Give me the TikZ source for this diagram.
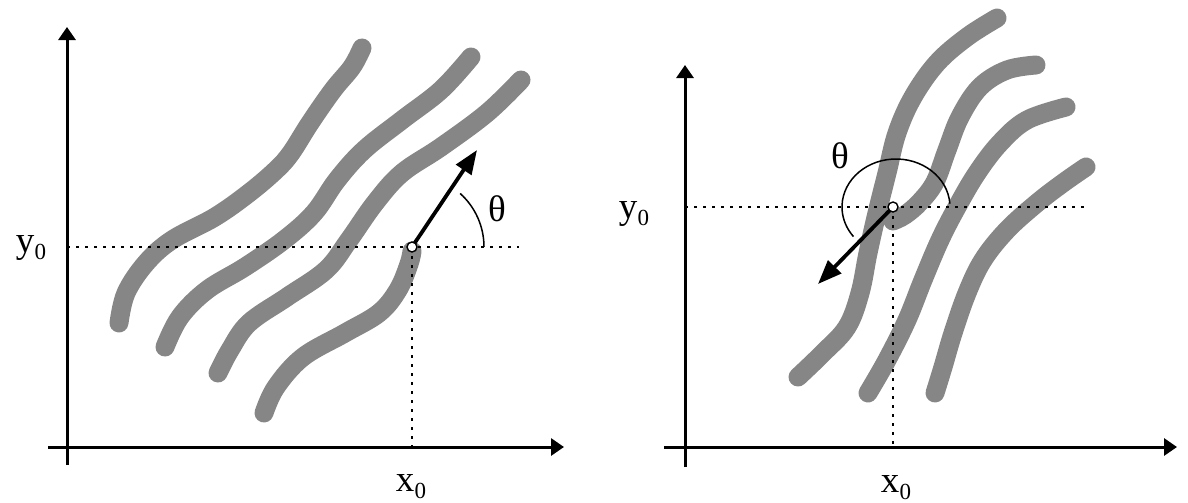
\documentclass[tikz,border=0pt]{standalone}
\usepackage{fontspec}
\setmainfont{Liberation Serif}
\usetikzlibrary{arrows.meta}
\definecolor{ridgegray}{RGB}{134,134,134}
\newcommand{\lblsub}[2]{#1\kern0.2pt\raisebox{-3.5pt}{\fontsize{11.5}{12}\selectfont #2}}
\begin{document}
\begin{tikzpicture}[x=0.5pt,y=0.5pt,
  axis/.style={line width=1.5pt,-{Triangle[length=6.5pt,width=8.5pt]}},
  guide/.style={line width=1.35pt,dash pattern=on 1.4pt off 3.1pt},
  ridge/.style={line width=9.5pt,draw=ridgegray,line cap=round,line join=round},
  dirarrow/.style={line width=1.9pt,-{Triangle[length=12pt,width=9pt]}},
  anglearc/.style={line width=0.75pt},
  lbl/.style={font=\fontsize{18.5}{20}\selectfont,inner sep=0pt,anchor=base},
  minutia/.style={circle,draw,fill=white,line width=0.7pt,minimum size=5pt,inner sep=0pt}]
\useasboundingbox (0,0) rectangle (1188,-503);

% ---------------- left panel: ridge ending ----------------
\coordinate (LYbot) at (67,-465);
\coordinate (LYtop) at (67,-27);
\coordinate (LXleft) at (48,-447);
\coordinate (LXright) at (564,-447);
\coordinate (LM) at (412,-247);
\coordinate (LY0) at (67,-247);
\coordinate (LYend) at (519,-247);
\coordinate (LX0) at (412,-447);
\coordinate (Ltip) at (477,-150);

\draw[ridge] plot[smooth,tension=0.6] coordinates {(119,-323) (126,-293) (146,-263) (172,-240) (215,-217) (249,-193) (276,-170) (291,-153) (310,-123) (333,-90) (352,-67) (362,-48)};
\draw[ridge] plot[smooth,tension=0.6] coordinates {(165,-347) (180,-317) (207,-290) (245,-267) (284,-240) (314,-213) (337,-180) (364,-150) (402,-120) (441,-90) (471,-57)};
\draw[ridge] plot[smooth,tension=0.6] coordinates {(218,-373) (230,-350) (249,-323) (287,-297) (326,-270) (349,-240) (375,-203) (402,-173) (441,-147) (487,-113) (521,-80)};
\draw[ridge] plot[smooth,tension=0.6] coordinates {(264,-413) (276,-387) (303,-357) (345,-333) (379,-313) (398,-290) (409,-264) (412,-251)};

\draw[axis] (LYbot) -- (LYtop);
\draw[axis] (LXleft) -- (LXright);
\draw[guide] (LY0) -- (LYend);
\draw[guide] (LM) -- (LX0);
\draw[dirarrow] (LM) -- (Ltip);
\draw[anglearc] ([shift={(0:72)}]LM) arc[start angle=0,end angle=48,radius=72];
\node[minutia] (Lmin) at (LM) {};

\node[lbl] (Ly0) at (31,-252) {\lblsub{y}{0}};
\node[lbl] (Lx0) at (411,-491) {\lblsub{x}{0}};
\node[lbl] (Lth) at (497,-221) {θ};

% ---------------- right panel: bifurcation ----------------
\coordinate (RYbot) at (685,-467);
\coordinate (RYtop) at (685,-65);
\coordinate (RXleft) at (664,-447);
\coordinate (RXright) at (1177,-447);
\coordinate (RM) at (893,-207);
\coordinate (RArc) at (896,-207);
\coordinate (RY0) at (685,-207);
\coordinate (RYend) at (1087,-207);
\coordinate (RX0) at (893,-447);
\coordinate (Rtip) at (818,-284);

\draw[ridge] plot[smooth,tension=0.6] coordinates {(798,-377) (823,-353) (847,-327) (860,-293) (868,-253) (877,-213) (887,-173) (897,-133) (913,-97) (937,-63) (967,-37) (997,-18)};
\draw[ridge] plot[smooth,tension=0.6] coordinates {(893,-221) (905,-215) (920,-202) (935,-182) (947,-150) (960,-117) (980,-87) (1007,-70) (1036,-65)};
\draw[ridge] plot[smooth,tension=0.6] coordinates {(868,-393) (887,-360) (907,-320) (923,-280) (940,-240) (957,-207) (977,-173) (1000,-143) (1027,-120) (1066,-107)};
\draw[ridge] plot[smooth,tension=0.6] coordinates {(935,-393) (943,-367) (953,-333) (967,-293) (983,-260) (1007,-230) (1037,-203) (1063,-183) (1086,-167)};

\draw[axis] (RYbot) -- (RYtop);
\draw[axis] (RXleft) -- (RXright);
\draw[guide] (RY0) -- (RYend);
\draw[guide] (RM) -- (RX0);
\draw[dirarrow] (RM) -- (Rtip);
\draw[anglearc] ([shift={(4:54 and 48)}]RArc) arc[start angle=4,end angle=218,x radius=54,y radius=48];
\node[minutia] (Rmin) at (RM) {};

\node[lbl] (Ry0) at (634,-218) {\lblsub{y}{0}};
\node[lbl] (Rx0) at (896,-492) {\lblsub{x}{0}};
\node[lbl] (Rth) at (840,-168) {θ};
\end{tikzpicture}
\end{document}
